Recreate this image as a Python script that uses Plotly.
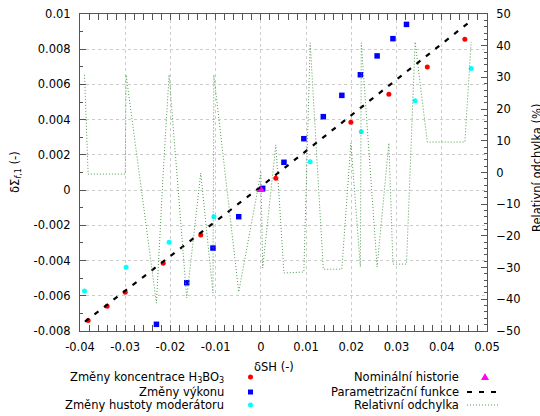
import numpy as np
import plotly.graph_objects as go

# ---- data ----
red_x = [-0.0382, -0.0340, -0.0300, -0.0216, -0.0133, 0.0033, 0.0199, 0.0283, 0.0368, 0.0451]
red_y = [-0.0074, -0.0066, -0.0058, -0.00416, -0.00255, 0.00067, 0.00385, 0.00544, 0.00699, 0.00856]
red_dev = [-0.5, -0.5, -0.5, 0.0, -0.2, 8.7, 9.3, 9.3, 9.6, 9.6]

blue_x = [-0.0231, -0.0164, -0.0106, -0.0049, 0.0004, 0.0051, 0.0095, 0.0138, 0.0179, 0.0220, 0.0257, 0.0292, 0.0322]
blue_y = [-0.00762, -0.00526, -0.00329, -0.00151, 0.0001, 0.00158, 0.00292, 0.00417, 0.00538, 0.00655, 0.00762, 0.0086, 0.00941]
blue_dev = [-41.2, -39.6, -38.0, -37.7, -30.1, -31.7, -31.4, -30.5, -30.5, -29.8, -29.8, -28.9, -28.9]

cyan_x = [-0.0390, -0.0298, -0.0203, -0.0104, 0.0109, 0.0222, 0.0341, 0.0465]
cyan_y = [-0.00573, -0.00438, -0.00296, -0.00151, 0.00161, 0.00332, 0.00508, 0.0069]
cyan_dev = [30.8, 30.8, 30.8, 30.8, 40.9, 40.9, 41.2, 41.2]

nom_x = [0.0]
nom_y = [0.0]
nom_dev = [0.0]

fit_x = [-0.0389, 0.0, 0.0459]
fit_y = [-0.00747, 0.0002, 0.0095]

x_ticks = [-0.04, -0.03, -0.02, -0.01, 0, 0.01, 0.02, 0.03, 0.04, 0.05]
x_labels = ["-0.04", "-0.03", "-0.02", "-0.01", "0", "0.01", "0.02", "0.03", "0.04", "0.05"]
y_ticks = [-0.008, -0.006, -0.004, -0.002, 0, 0.002, 0.004, 0.006, 0.008, 0.01]
y_labels = ["-0.008", "-0.006", "-0.004", "-0.002", "0", "0.002", "0.004", "0.006", "0.008", "0.01"]
y2_ticks = [-50, -40, -30, -20, -10, 0, 10, 20, 30, 40, 50]

# relative deviation line: all points sorted by x
all_x = np.array(red_x + blue_x + cyan_x + nom_x)
all_dev = np.array(red_dev + blue_dev + cyan_dev + nom_dev)
order = np.argsort(all_x, kind="stable")
dev_x = all_x[order]
dev_y = all_dev[order]

FONT = "DejaVu Sans"
FS = 11.5

fig = go.Figure()
fig.add_trace(go.Scatter(x=red_x, y=red_y, mode="markers",
                         marker=dict(symbol="circle", size=5, color="#ff0000"), showlegend=False))
fig.add_trace(go.Scatter(x=blue_x, y=blue_y, mode="markers",
                         marker=dict(symbol="square", size=5.5, color="#0000ff"), showlegend=False))
fig.add_trace(go.Scatter(x=cyan_x, y=cyan_y, mode="markers",
                         marker=dict(symbol="circle", size=5, color="#00ffff"), showlegend=False))
fig.add_trace(go.Scatter(x=nom_x, y=nom_y, mode="markers",
                         marker=dict(symbol="triangle-up", size=8, color="#ff00ff"), showlegend=False))
fig.add_trace(go.Scatter(x=fit_x, y=fit_y, mode="lines",
                         line=dict(color="black", width=2.2, dash="5px,7px"), showlegend=False))
fig.add_trace(go.Scatter(x=dev_x, y=dev_y, mode="lines", yaxis="y2",
                         line=dict(color="#4f9a4f", width=1, dash="1px,2px"), showlegend=False))

axis_common = dict(showline=True, linecolor="#555555", linewidth=1, zeroline=False, automargin=False,
                   tickfont=dict(family=FONT, size=FS, color="black"),
                   ticks="inside", ticklen=6, tickcolor="#555555")

fig.update_layout(
    width=540, height=416,
    margin=dict(l=80, r=53, t=14, b=85, autoexpand=False),
    paper_bgcolor="white", plot_bgcolor="white",
    font=dict(family=FONT, size=FS, color="black"),
    showlegend=False,
    xaxis=dict(range=[-0.04, 0.05], tickvals=x_ticks, ticktext=x_labels, mirror="allticks",
               showgrid=True, gridcolor="#cccccc", griddash="dot", gridwidth=1,
               minor=dict(ticks="inside", ticklen=3, dtick=0.002, tick0=0, tickcolor="#555555", showgrid=False),
               ticklabelstandoff=5, **axis_common),
    yaxis=dict(range=[-0.008, 0.01], tickvals=y_ticks, ticktext=y_labels,
               showgrid=True, gridcolor="#cccccc", griddash="dot", gridwidth=1,
               minor=dict(ticks="inside", ticklen=3, dtick=0.001, tick0=0, tickcolor="#555555", showgrid=False),
               ticklabelstandoff=6, **axis_common),
    yaxis2=dict(range=[-50, 50], tickvals=y2_ticks, overlaying="y", side="right", showgrid=False,
                minor=dict(ticks="inside", ticklen=3, dtick=2, tick0=0, tickcolor="#555555"),
                ticklabelstandoff=6, **axis_common),
)

def px(xp):
    return (xp - 80) / 407.0

def py(yp):
    return (331 - yp) / 317.0

ann = []
# axis titles
ann.append(dict(text="δSH (-)", x=px(274), y=py(367), xref="paper", yref="paper",
                showarrow=False, xanchor="center", yanchor="middle", font=dict(family=FONT, size=FS)))
ann.append(dict(text="δΣ<sub><i>f</i>,1</sub> (-)", x=px(15), y=py(172), xref="paper", yref="paper",
                showarrow=False, textangle=-90, xanchor="center", yanchor="middle", font=dict(family=FONT, size=FS)))
ann.append(dict(text="Relativní odchylka (%)", x=px(537), y=py(168), xref="paper", yref="paper",
                showarrow=False, textangle=-90, xanchor="center", yanchor="middle", font=dict(family=FONT, size=FS)))

# legend texts
rows = [377, 392, 405]
left_texts = ["Změny koncentrace H<sub>3</sub>BO<sub>3</sub>", "Změny výkonu", "Změny hustoty moderátoru"]
right_texts = ["Nominální historie", "Parametrizační funkce", "Relativní odchylka"]
for t, r in zip(left_texts, rows):
    ann.append(dict(text=t, x=px(226), y=py(r), xref="paper", yref="paper", showarrow=False,
                    xanchor="right", yanchor="middle", font=dict(family=FONT, size=FS)))
for t, r in zip(right_texts, rows):
    ann.append(dict(text=t, x=px(461), y=py(r), xref="paper", yref="paper", showarrow=False,
                    xanchor="right", yanchor="middle", font=dict(family=FONT, size=FS)))
fig.update_layout(annotations=ann)

shapes = []
def marker_shape(kind, cx, cy, color, s):
    return dict(type=kind, xref="paper", yref="paper", xsizemode="pixel", ysizemode="pixel",
                xanchor=px(cx), yanchor=py(cy), x0=-s, x1=s, y0=-s, y1=s,
                fillcolor=color, line=dict(width=0))
shapes.append(marker_shape("circle", 250.5, rows[0], "#ff0000", 2.5))
shapes.append(marker_shape("rect", 250.5, rows[1], "#0000ff", 2.5))
shapes.append(marker_shape("circle", 250.5, rows[2], "#00ffff", 2.5))
shapes.append(dict(type="path", xref="paper", yref="paper", xsizemode="pixel", ysizemode="pixel",
                   xanchor=px(485), yanchor=py(rows[0]), path="M-4,-3 L4,-3 L0,4 Z",
                   fillcolor="#ff00ff", line=dict(width=0)))
shapes.append(dict(type="line", xref="paper", yref="paper", x0=px(467), x1=px(498), y0=py(rows[1]), y1=py(rows[1]),
                   line=dict(color="black", width=2.2, dash="5px,7px")))
shapes.append(dict(type="line", xref="paper", yref="paper", x0=px(467), x1=px(500), y0=py(rows[2]), y1=py(rows[2]),
                   line=dict(color="#4f9a4f", width=1, dash="1px,2px")))
fig.update_layout(shapes=shapes)

fig.write_html("out.html")
